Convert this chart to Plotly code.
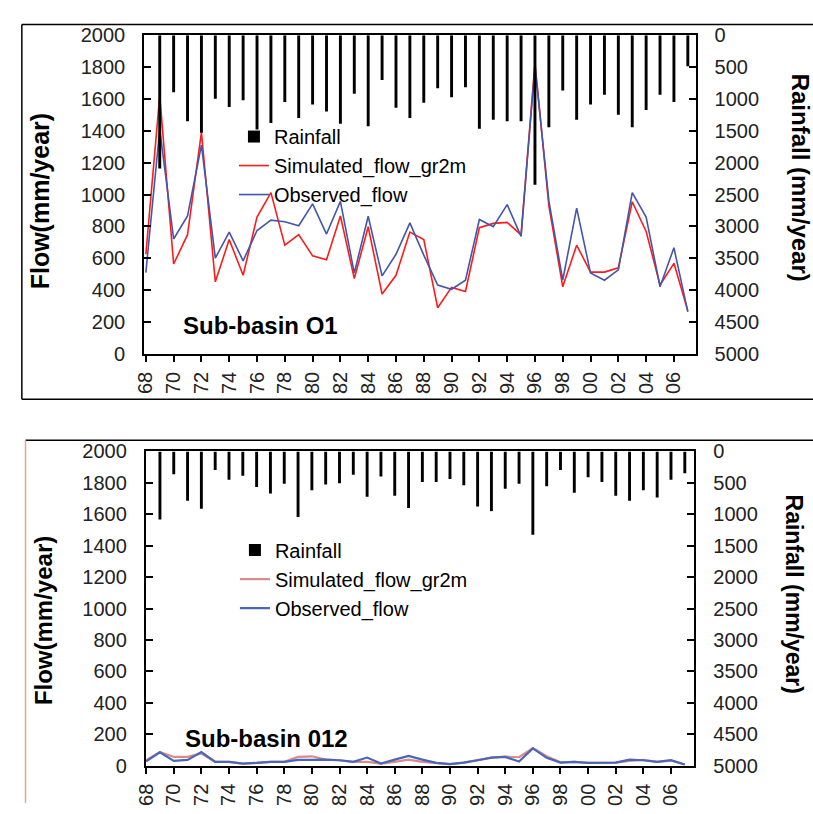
import plotly.graph_objects as go

years = list(range(1968, 2008))
tick_years = list(range(1968, 2008, 2))
tick_text = [str(y)[2:] for y in tick_years]

# Sub-basin O1
rain_o1 = [None, 2090, 892, 1349, 1530, 994, 1127, 1020, 1478, 1376,
           1045, 1300, 1086, 1197, 1387, 917, 1427, 703, 1136, 1300,
           1060, 830, 974, 815, 1468, 1325, 1350, 1350, 2345, 1442,
           867, 1325, 1086, 933, 1249, 1442, 1172, 933, 1045, 484]
sim_o1 = [625, 1620, 564, 748, 1390, 452, 717, 493, 859, 1012,
          682, 748, 615, 590, 866, 472, 798, 375, 493, 764,
          717, 289, 417, 391, 792, 819, 825, 747, 1828, 930,
          421, 682, 513, 513, 540, 955, 768, 432, 568, 270]
obs_o1 = [510, 1410, 721, 866, 1310, 601, 764, 584, 774, 839,
          829, 804, 941, 752, 957, 507, 864, 489, 625, 822,
          620, 432, 405, 462, 843, 798, 937, 737, 1807, 960,
          462, 915, 507, 462, 527, 1012, 859, 421, 666, 263]

# Sub-basin 012
rain_012 = [None, 1084, 361, 784, 913, 294, 449, 387, 567, 670,
            515, 1042, 619, 526, 505, 371, 722, 397, 706, 898,
            485, 485, 438, 536, 877, 949, 593, 515, 1326, 552,
            294, 655, 412, 485, 706, 784, 619, 732, 449, 346]
sim_012 = [35, 88, 56, 56, 78, 25, 25, 14, 18, 25,
           25, 56, 60, 39, 35, 25, 25, 14, 25, 39,
           25, 18, 10, 20, 35, 52, 58, 54, 112, 60,
           22, 25, 18, 18, 20, 31, 37, 25, 33, 8]
obs_012 = [28, 86, 31, 37, 87, 25, 25, 14, 18, 25,
           25, 37, 37, 39, 35, 25, 52, 14, 39, 62,
           39, 18, 10, 20, 35, 52, 56, 27, 110, 50,
           20, 25, 18, 18, 20, 39, 35, 25, 35, 8]

W, H = 813, 814
FONT = "Liberation Sans, Arial, sans-serif"

def px(x):
    return x / W

def py(y):
    return 1 - y / H

fig = go.Figure()

# top panel
fig.add_trace(go.Bar(x=years, y=rain_o1, name="Rainfall", marker_color="black",
                     marker_line_width=0, width=0.21, xaxis="x", yaxis="y2",
                     legend="legend"))
fig.add_trace(go.Scatter(x=years, y=sim_o1, name="Simulated_flow_gr2m", mode="lines",
                         line=dict(color="#ff1a1a", width=1.6), xaxis="x", yaxis="y",
                         legend="legend"))
fig.add_trace(go.Scatter(x=years, y=obs_o1, name="Observed_flow", mode="lines",
                         line=dict(color="#4455aa", width=1.6), xaxis="x", yaxis="y",
                         legend="legend"))

# bottom panel
fig.add_trace(go.Bar(x=years, y=rain_012, name="Rainfall", marker_color="black",
                     marker_line_width=0, width=0.21, xaxis="x2", yaxis="y4",
                     legend="legend2"))
fig.add_trace(go.Scatter(x=years, y=sim_012, name="Simulated_flow_gr2m", mode="lines",
                         line=dict(color="#d98a8a", width=2.2), xaxis="x2", yaxis="y3",
                         legend="legend2"))
fig.add_trace(go.Scatter(x=years, y=obs_012, name="Observed_flow", mode="lines",
                         line=dict(color="#4a66b8", width=2.2), xaxis="x2", yaxis="y3",
                         legend="legend2"))

tickfont = dict(family=FONT, size=20, color="#222")

def xaxis_cfg(domain, anchor, rng):
    return dict(domain=domain, anchor=anchor, range=rng, tickmode="array",
                tickvals=tick_years, ticktext=tick_text, tickangle=-90,
                ticks="outside", ticklen=6, tickwidth=1.5, tickcolor="black",
                showline=True, linecolor="black", linewidth=2, mirror=True,
                showgrid=False, zeroline=False, tickfont=tickfont,
                ticklabelstandoff=2)

def yleft_cfg(domain, anchor):
    return dict(domain=domain, anchor=anchor, range=[0, 2000], dtick=200,
                ticks="inside", ticklen=7, tickwidth=1.5, tickcolor="black",
                showline=True, linecolor="black", linewidth=2,
                showgrid=False, zeroline=False, tickfont=tickfont,
                ticklabelstandoff=13)

def yright_cfg(overlay, anchor):
    return dict(overlaying=overlay, anchor=anchor, side="right", range=[5000, 0],
                dtick=500, ticks="inside", ticklen=7, tickwidth=1.5, tickcolor="black",
                showline=True, linecolor="black", linewidth=2,
                showgrid=False, zeroline=False, tickfont=tickfont,
                ticklabelstandoff=13)

top_x = [px(135), px(694)]
top_y = [py(352.3), py(25)]
bot_x = [px(136.7), px(692.7)]
bot_y = [py(775.7), py(452.7)]

legend_font = dict(family=FONT, size=20, color="black")

def hline(x0, x1, y, color="black"):
    return dict(type="line", xref="paper", yref="paper", x0=x0, x1=x1, y0=y, y1=y,
                line=dict(color=color, width=1.5))

def vline(x, y0, y1, color="black"):
    return dict(type="line", xref="paper", yref="paper", x0=x, x1=x, y0=y0, y1=y1,
                line=dict(color=color, width=1.5))

def label(text, x, y, size, angle=0):
    return dict(text=text, x=px(x), y=py(y), xref="paper", yref="paper",
                xanchor="center", yanchor="middle", showarrow=False,
                textangle=angle, font=dict(family=FONT, size=size, color="black"))

fig.update_layout(
    width=W, height=H,
    margin=dict(l=0, r=0, t=0, b=0),
    paper_bgcolor="white", plot_bgcolor="rgba(0,0,0,0)",
    showlegend=True,
    barmode="overlay",
    xaxis=xaxis_cfg(top_x, "y", [1967.88, 2007.56]),
    yaxis=yleft_cfg(top_y, "x"),
    yaxis2=yright_cfg("y", "x"),
    xaxis2=xaxis_cfg(bot_x, "y3", [1967.98, 2007.69]),
    yaxis3=yleft_cfg(bot_y, "x2"),
    yaxis4=yright_cfg("y3", "x2"),
    legend=dict(x=px(226), y=py(109), xanchor="left", yanchor="top",
                bgcolor="rgba(0,0,0,0)", font=legend_font, traceorder="normal",
                itemwidth=30),
    legend2=dict(x=px(227), y=py(534), xanchor="left", yanchor="top",
                 bgcolor="rgba(0,0,0,0)", font=legend_font, traceorder="normal",
                 itemwidth=30),
    annotations=[
        label("<b>Sub-basin O1</b>", 253, 323, 24),
        label("<b>Sub-basin 012</b>", 259, 748, 24),
        label("<b>Flow(mm/year)</b>", 29, 196, 25, -90),
        label("<b>Rainfall (mm/year)</b>", 800, 171.5, 24, 90),
        label("<b>Flow(mm/year)</b>", 33, 626.5, 24, -90),
        label("<b>Rainfall (mm/year)</b>", 794, 599, 23, 90),
    ],
    shapes=[
        hline(px(11), 1.0, py(14)),
        hline(px(11), 1.0, py(399)),
        vline(px(11), py(399), py(14)),
        hline(px(14.7), 1.0, py(441.3)),
        vline(px(14.7), 0.0, py(441.3), color="#eba58a"),
    ],
)

fig.write_html(
    "out.html",
    config={"displayModeBar": False},
    post_script="document.documentElement.style.margin='0';document.body.style.margin='0';"
                "document.body.style.padding='0';document.body.style.overflow='hidden';",
)
